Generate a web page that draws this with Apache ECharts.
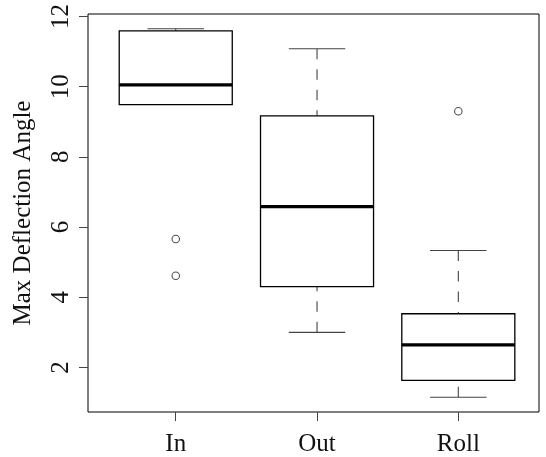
<!DOCTYPE html>
<html>
<head>
<meta charset="utf-8">
<script src="https://cdn.jsdelivr.net/npm/echarts@6/dist/echarts.min.js"></script>
<style>
html,body{margin:0;padding:0;background:#fff;}
#chart{width:546px;height:457px;}
</style>
</head>
<body>
<div id="chart"></div>
<script>
// ---- data ----
const categories = ['In', 'Out', 'Roll'];
const lowerWhisker = [9.49, 3.00, 1.15];
const q1Values     = [9.49, 4.30, 1.63];
const medians      = [10.05, 6.58, 2.64];
const q3Values     = [11.59, 9.17, 3.53];
const upperWhisker = [11.65, 11.08, 5.33];
const outlierCategory = ['In', 'In', 'Roll'];
const outlierValues   = [5.66, 4.61, 9.30];
const yTicks = [2, 4, 6, 8, 10, 12];

// ---- build series data ----
const catPos = categories.map((c, i) => i + 1);
const boxData = categories.map((c, i) => [catPos[i], lowerWhisker[i], q1Values[i], medians[i], q3Values[i], upperWhisker[i]]);
const outlierData = outlierValues.map((v, i) => [categories.indexOf(outlierCategory[i]) + 1, v]);

// R-style axis extension (4%)
const lo = Math.min(...lowerWhisker, ...outlierValues);
const hi = Math.max(...upperWhisker, ...outlierValues);
const yMin = lo - 0.04 * (hi - lo);
const yMax = hi + 0.04 * (hi - lo);

const FONT = 'Liberation Serif';
const BOX_WIDTH = 0.8;
const CAP_WIDTH = 0.4;

const chart = echarts.init(document.getElementById('chart'), null, {renderer: 'canvas'});

function renderBox(params, api) {
  const x = api.value(0);
  const lw = api.value(1), q1 = api.value(2), md = api.value(3), q3 = api.value(4), uw = api.value(5);
  const pt = v => api.coord([x, v]);
  const half = api.size([BOX_WIDTH, 0])[0] / 2;
  const capHalf = api.size([CAP_WIDTH, 0])[0] / 2;
  const cx = pt(md)[0];
  const yLw = pt(lw)[1], yQ1 = pt(q1)[1], yMd = pt(md)[1], yQ3 = pt(q3)[1], yUw = pt(uw)[1];
  const whiskerStyle = {stroke: '#444', lineWidth: 1.1, lineDash: [10.5, 10]};
  const capStyle = {stroke: '#444', lineWidth: 1.1};
  return {
    type: 'group',
    children: [
      {type: 'line', shape: {x1: cx, y1: yUw, x2: cx, y2: yQ3}, style: whiskerStyle},
      {type: 'line', shape: {x1: cx, y1: yLw, x2: cx, y2: yQ1}, style: whiskerStyle},
      {type: 'line', shape: {x1: cx - capHalf, y1: yUw, x2: cx + capHalf, y2: yUw}, style: capStyle},
      {type: 'line', shape: {x1: cx - capHalf, y1: yLw, x2: cx + capHalf, y2: yLw}, style: capStyle},
      {type: 'rect', shape: {x: cx - half, y: yQ3, width: 2 * half, height: yQ1 - yQ3},
        style: {fill: 'none', stroke: '#000', lineWidth: 1.3}},
      {type: 'line', shape: {x1: cx - half, y1: yMd, x2: cx + half, y2: yMd},
        style: {stroke: '#000', lineWidth: 3.2}}
    ]
  };
}

const option = {
  animation: false,
  backgroundColor: '#fff',
  grid: {
    left: 88, top: 14, width: 451, height: 400,
    show: true, borderColor: '#000', borderWidth: 1, backgroundColor: 'transparent',
    containLabel: false
  },
  xAxis: {
    type: 'value',
    min: 0.379, max: 3.571,
    axisLine: {show: false},
    splitLine: {show: false},
    axisTick: {show: true, customValues: catPos, length: 9, lineStyle: {color: '#444', width: 1}},
    axisLabel: {
      customValues: catPos,
      formatter: v => categories[Math.round(v) - 1],
      fontFamily: FONT, fontSize: 25, color: '#111', margin: 20
    }
  },
  yAxis: {
    type: 'value',
    min: yMin, max: yMax,
    name: 'Max Deflection Angle',
    nameLocation: 'middle',
    nameRotate: 90,
    nameGap: 52,
    nameTextStyle: {fontFamily: FONT, fontSize: 25, color: '#111'},
    axisLine: {show: false},
    splitLine: {show: false},
    axisTick: {show: true, customValues: yTicks, length: 9, lineStyle: {color: '#444', width: 1}},
    axisLabel: {
      customValues: yTicks,
      rotate: 90,
      fontFamily: FONT, fontSize: 25, color: '#111', margin: 14
    }
  },
  series: [
    {
      type: 'custom',
      renderItem: renderBox,
      data: boxData,
      encode: {x: 0, y: [1, 2, 3, 4, 5]},
      clip: false,
      silent: true
    },
    {
      type: 'scatter',
      data: outlierData,
      symbol: 'circle',
      symbolSize: 7.5,
      itemStyle: {color: '#fff', borderColor: '#222', borderWidth: 1.1},
      silent: true
    }
  ]
};
chart.setOption(option);
</script>
</body>
</html>
